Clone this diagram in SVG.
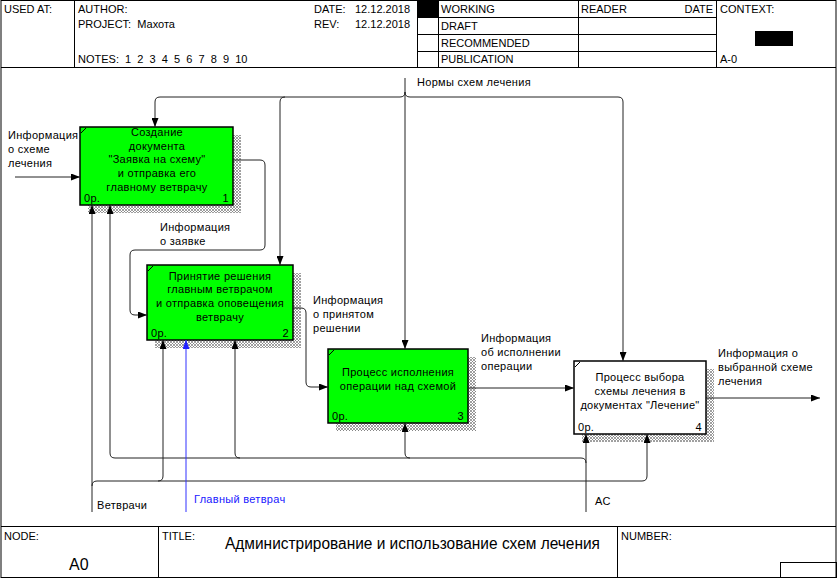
<svg xmlns="http://www.w3.org/2000/svg" width="837" height="578" viewBox="0 0 837 578">
<style>
text{font-family:"Liberation Sans",Arial,sans-serif;fill:#000}
.h{font-size:11px;white-space:pre}
.t{font-size:11px;letter-spacing:0.3px}
.c{text-anchor:middle}
.e{text-anchor:end}
.frame{fill:none;stroke:#000;stroke-width:1}
.box{stroke:#000;stroke-width:1.5}
.g{fill:#00ff00}
.w{fill:#fff}
.sh{fill:url(#hatch)}
.ln{fill:none;stroke:#222;stroke-width:1}
.arr{marker-end:url(#ah)}
.blue{fill:none;stroke:#3030ff;stroke-width:1;marker-end:url(#ahb)}
</style>
<defs>
<pattern id="hatch" patternUnits="userSpaceOnUse" width="3" height="3">
<rect width="3" height="3" fill="#fff"/>
<path d="M0,3 L3,0 M0,0 L3,3" stroke="#777" stroke-width="0.7"/>
</pattern>
<marker id="ah" markerUnits="userSpaceOnUse" markerWidth="9" markerHeight="7" refX="9" refY="3.5" orient="auto">
<path d="M0,0 L9,3.5 L0,7 z" fill="#000"/>
</marker>
<marker id="ahb" markerUnits="userSpaceOnUse" markerWidth="9" markerHeight="7" refX="9" refY="3.5" orient="auto">
<path d="M0,0 L9,3.5 L0,7 z" fill="#2020ff"/>
</marker>
</defs>
<rect x="0" y="0" width="837" height="578" fill="#fff"/>
<g id="frame">
<rect class="frame" x="1" y="0.5" width="835" height="577"/>
<line class="frame" x1="1" y1="67.5" x2="836" y2="67.5"/>
<line class="frame" x1="74.5" y1="0" x2="74.5" y2="67"/>
<line class="frame" x1="417.5" y1="0" x2="417.5" y2="67"/>
<line class="frame" x1="438.5" y1="0" x2="438.5" y2="67"/>
<line class="frame" x1="578.5" y1="0" x2="578.5" y2="67"/>
<line class="frame" x1="716.5" y1="0" x2="716.5" y2="67"/>
<line class="frame" x1="417" y1="17.5" x2="716" y2="17.5"/>
<line class="frame" x1="417" y1="34.5" x2="716" y2="34.5"/>
<line class="frame" x1="417" y1="51.5" x2="716" y2="51.5"/>
<rect x="418" y="0" width="20" height="17" fill="#000"/>
<rect x="755" y="31" width="38" height="15" fill="#000"/>
<text class="h" x="4" y="13">USED AT:</text>
<text class="h" x="78" y="13">AUTHOR:</text>
<text class="h" x="78" y="28" xml:space="preserve">PROJECT:  Махота</text>
<text class="h" x="78" y="63" xml:space="preserve">NOTES:  1  2  3  4  5  6  7  8  9  10</text>
<text class="h" x="314" y="13">DATE:</text>
<text class="h" x="355" y="13">12.12.2018</text>
<text class="h" x="314" y="28">REV:</text>
<text class="h" x="355" y="28">12.12.2018</text>
<text class="h" x="441" y="13">WORKING</text>
<text class="h" x="441" y="30">DRAFT</text>
<text class="h" x="441" y="47">RECOMMENDED</text>
<text class="h" x="441" y="63">PUBLICATION</text>
<text class="h" x="581" y="13">READER</text>
<text class="h" x="713" y="13" text-anchor="end">DATE</text>
<text class="h" x="720" y="13">CONTEXT:</text>
<text class="h" x="720" y="63">A-0</text>
<line class="frame" x1="1" y1="526.5" x2="836" y2="526.5"/>
<line class="frame" x1="158.5" y1="526" x2="158.5" y2="578"/>
<line class="frame" x1="617.5" y1="526" x2="617.5" y2="578"/>
<rect class="frame" x="780.5" y="562.5" width="56" height="15"/>
<text class="h" x="4" y="540">NODE:</text>
<text x="69" y="570" style="font-size:16px">A0</text>
<text class="h" x="162" y="540">TITLE:</text>
<text x="225" y="549" style="font-size:16px" textLength="375" lengthAdjust="spacingAndGlyphs">Администрирование и использование схем лечения</text>
<text class="h" x="621" y="540">NUMBER:</text>
</g>
<g id="node1">
<rect class="sh" x="88" y="135" width="153" height="78"/>
<rect class="box g" x="80" y="127" width="153" height="78"/>
<path d="M81,133 L86,128" stroke="#000" stroke-width="1"/>
<text class="t c" x="157" y="136">Создание</text>
<text class="t c" x="157" y="150">документа</text>
<text class="t c" x="157" y="163">"Заявка на схему"</text>
<text class="t c" x="157" y="177">и отправка его</text>
<text class="t c" x="157" y="191">главному ветврачу</text>
<text class="t" x="84" y="202">0р.</text>
<text class="t e" x="229" y="202">1</text>
</g>
<g id="node2">
<rect class="sh" x="155" y="273" width="146" height="75"/>
<rect class="box g" x="147" y="265" width="146" height="75"/>
<path d="M148,271 L153,266" stroke="#000" stroke-width="1"/>
<text class="t c" x="220" y="280">Принятие решения</text>
<text class="t c" x="220" y="293">главным ветврачом</text>
<text class="t c" x="220" y="307">и отправка оповещения</text>
<text class="t c" x="220" y="321">ветврачу</text>
<text class="t" x="151" y="337">0р.</text>
<text class="t e" x="289" y="337">2</text>
</g>
<g id="node3">
<rect class="sh" x="336" y="357" width="140" height="74"/>
<rect class="box g" x="328" y="349" width="140" height="74"/>
<path d="M329,355 L334,350" stroke="#000" stroke-width="1"/>
<text class="t c" x="398" y="376">Процесс исполнения</text>
<text class="t c" x="398" y="390">операции над схемой</text>
<text class="t" x="332" y="420">0р.</text>
<text class="t e" x="464" y="420">3</text>
</g>
<g id="node4">
<rect class="sh" x="582" y="369" width="132" height="73"/>
<rect class="box w" x="574" y="361" width="132" height="73"/>
<path d="M575,367 L580,362" stroke="#000" stroke-width="1"/>
<text class="t c" x="640" y="381">Процесс выбора</text>
<text class="t c" x="640" y="395">схемы лечения в</text>
<text class="t c" x="640" y="409">документах "Лечение"</text>
<text class="t" x="578" y="431">0р.</text>
<text class="t e" x="702" y="431">4</text>
</g>
<g id="connectors">
<path class="ln arr" d="M15,177 H80"/>
<path class="ln arr" d="M405,78 V349"/>
<path class="ln arr" d="M405,92 Q405,97 400,97 H160 Q155,97 155,102 V127"/>
<path class="ln arr" d="M405,92 Q405,97 410,97 H618 Q623,97 623,102 V361"/>
<path class="ln arr" d="M285,97 Q280,97 280,102 V265"/>
<path class="ln arr" d="M233,160 H260 Q265,160 265,165 V245 Q265,250 260,250 H135 Q130,250 130,255 V310 Q130,315 135,315 H147"/>
<path class="ln arr" d="M293,308 H301 Q306,308 306,313 V382 Q306,387 311,387 H328"/>
<path class="ln arr" d="M468,388 H574"/>
<path class="ln arr" d="M706,398 H820"/>
<path class="ln arr" d="M92,512 V205"/>
<path class="ln arr" d="M92,486 Q92,481 97,481 H642 Q647,481 647,476 V434"/>
<path class="ln arr" d="M158,481 Q163,481 163,476 V340"/>
<path class="ln arr" d="M586,512 V434"/>
<path class="ln arr" d="M581,458 H115 Q110,458 110,453 V205"/>
<path class="ln arr" d="M240,458 Q235,458 235,453 V340"/>
<path class="ln arr" d="M410,458 Q405,458 405,453 V423"/>
<path class="blue" d="M186,512 V340"/>
<path class="ln" d="M581,458 Q586,458 586,463"/>
<text class="t" x="8" y="139">Информация</text>
<text class="t" x="8" y="153">о схеме</text>
<text class="t" x="8" y="167">лечения</text>
<text class="t" x="417" y="86">Нормы схем лечения</text>
<text class="t" x="160" y="231">Информация</text>
<text class="t" x="160" y="245">о заявке</text>
<text class="t" x="313" y="304">Информация</text>
<text class="t" x="313" y="318">о принятом</text>
<text class="t" x="313" y="332">решении</text>
<text class="t" x="481" y="342">Информация</text>
<text class="t" x="481" y="356">об исполнении</text>
<text class="t" x="481" y="370">операции</text>
<text class="t" x="718" y="357">Информация о</text>
<text class="t" x="718" y="371">выбранной схеме</text>
<text class="t" x="718" y="385">лечения</text>
<text class="t" x="97" y="509">Ветврачи</text>
<text class="t" x="194" y="503" style="fill:#2020ff">Главный ветврач</text>
<text class="t" x="595" y="505">АС</text>
</g>
</svg>
